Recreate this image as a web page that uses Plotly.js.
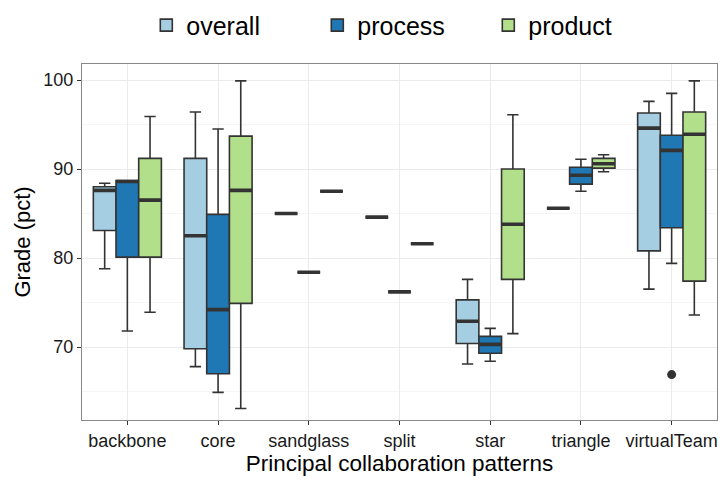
<!DOCTYPE html>
<html><head><meta charset="utf-8">
<script src="https://cdn.plot.ly/plotly-3.0.1.min.js"></script>
<style>html,body{margin:0;padding:0;background:#fff}#chart{width:718px;height:480px}</style>
</head><body><div id="chart"></div>
<script>
const categories = ['backbone','core','sandglass','split','star','triangle','virtualTeam'];
const seriesNames = ['overall','process','product'];
const seriesColors = ['#a6cee3','#1f78b4','#b2df8a'];

const overallLower = [78.8, 67.8, 85.0, 84.6, 68.1, 85.6, 76.5];
const overallQ1    = [83.1, 69.8, 85.0, 84.6, 70.4, 85.6, 80.8];
const overallMed   = [87.6, 82.5, 85.0, 84.6, 72.9, 85.6, 94.6];
const overallQ3    = [88.0, 91.2, 85.0, 84.6, 75.3, 85.6, 96.3];
const overallUpper = [88.4, 96.4, 85.0, 84.6, 77.6, 85.6, 97.6];

const processLower = [71.8, 64.9, 78.4, 76.2, 68.4, 87.5, 79.4];
const processQ1    = [80.1, 67.0, 78.4, 76.2, 69.3, 88.3, 83.4];
const processMed   = [88.6, 74.2, 78.4, 76.2, 70.3, 89.3, 92.1];
const processQ3    = [88.7, 84.9, 78.4, 76.2, 71.2, 90.2, 93.8];
const processUpper = [88.7, 94.5, 78.4, 76.2, 72.1, 91.1, 98.5];

const productLower = [73.9, 63.1, 87.5, 81.6, 71.5, 89.7, 73.6];
const productQ1    = [80.1, 74.9, 87.5, 81.6, 77.6, 90.1, 77.4];
const productMed   = [86.5, 87.6, 87.5, 81.6, 83.8, 90.6, 93.9];
const productQ3    = [91.2, 93.7, 87.5, 81.6, 90.0, 91.2, 96.4];
const productUpper = [95.9, 99.9, 87.5, 81.6, 96.1, 91.6, 99.9];

const outlierCategory = ['virtualTeam'];
const outlierValue = [66.9];

const stats = [
  [overallLower, overallQ1, overallMed, overallQ3, overallUpper],
  [processLower, processQ1, processMed, processQ3, processUpper],
  [productLower, productQ1, productMed, productQ3, productUpper]
];

const lineCol = '#333333';
const traces = [];
seriesNames.forEach((name, i) => {
  const [lo, q1, md, q3, up] = stats[i];
  traces.push({
    type: 'box', name: name, x: categories, offsetgroup: name,
    lowerfence: lo, q1: q1, median: md, q3: q3, upperfence: up,
    fillcolor: seriesColors[i], line: {color: lineCol, width: 1.6},
    boxpoints: false, hoverinfo: 'skip'
  });
});
// thick median bars (ggplot fatten)
seriesNames.forEach((name, i) => {
  const md = stats[i][2];
  traces.push({
    type: 'box', name: name + ' median', x: categories, offsetgroup: name,
    lowerfence: md, q1: md, median: md, q3: md, upperfence: md,
    fillcolor: 'rgba(0,0,0,0)', line: {color: lineCol, width: 3.6},
    boxpoints: false, showlegend: false, hoverinfo: 'skip'
  });
});
traces.push({
  type: 'scatter', mode: 'markers', x: outlierCategory, y: outlierValue,
  marker: {color: lineCol, size: 9}, showlegend: false, hoverinfo: 'skip'
});

const layout = {
  width: 718, height: 480,
  margin: {l: 82, r: 1, t: 64, b: 60},
  paper_bgcolor: '#fff', plot_bgcolor: '#fff',
  font: {family: 'Liberation Sans, Arial, sans-serif', color: '#000'},
  boxmode: 'group', boxgap: 0.25, boxgroupgap: 0,
  showlegend: true,
  legend: {orientation: 'h', x: 0.561, xref: 'container', xanchor: 'center',
           y: 0.995, yref: 'container', yanchor: 'top',
           font: {size: 25, color: '#000'}, itemwidth: 30, entrywidth: 126,
           traceorder: 'normal'},
  xaxis: {
    type: 'category', categoryorder: 'array', categoryarray: categories,
    showgrid: true, gridcolor: '#ebebeb', gridwidth: 1,
    showline: true, mirror: true, linecolor: '#888', linewidth: 1,
    ticks: 'outside', ticklen: 4, tickcolor: '#333',
    tickfont: {size: 18, color: '#1a1a1a'},
    title: {text: 'Principal collaboration patterns', font: {size: 22.5, color: '#000'}, standoff: 4},
    zeroline: false
  },
  yaxis: {
    range: [61.8, 101.8], tickvals: [70, 80, 90, 100],
    showgrid: true, gridcolor: '#ebebeb', gridwidth: 1,
    minor: {tickvals: [65, 75, 85, 95], showgrid: true, gridcolor: '#f5f5f5', gridwidth: 1, ticks: ''},
    showline: true, mirror: true, linecolor: '#888', linewidth: 1,
    ticks: 'outside', ticklen: 4, tickcolor: '#333',
    tickfont: {size: 18, color: '#1a1a1a'},
    title: {text: 'Grade (pct)', font: {size: 22, color: '#000'}, standoff: 6},
    zeroline: false
  }
};

Plotly.newPlot('chart', traces, layout, {displayModeBar: false, staticPlot: true});
</script></body></html>
